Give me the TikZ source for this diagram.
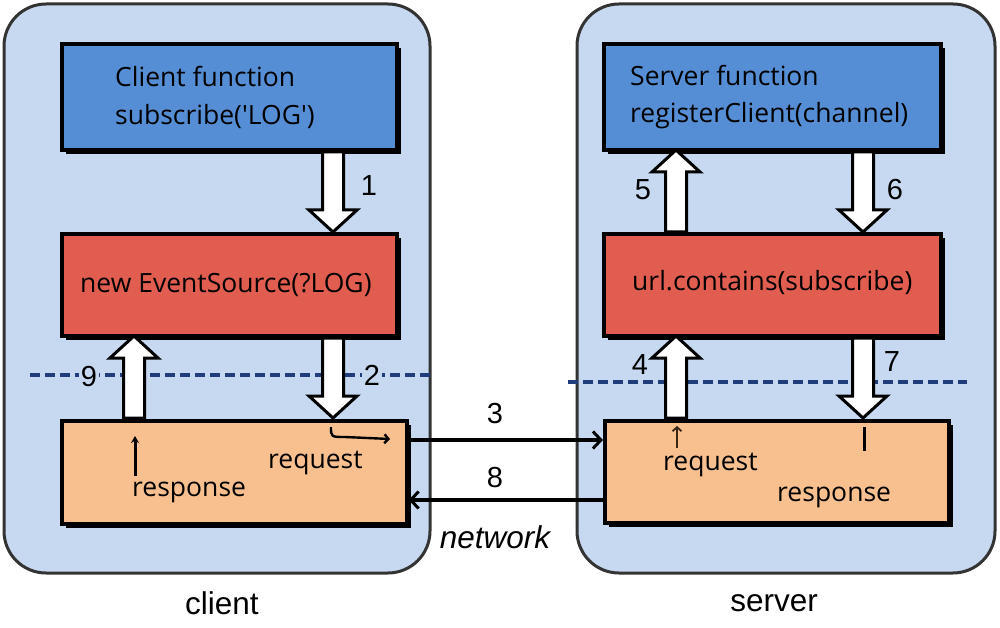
\documentclass[tikz,border=0pt]{standalone}
\usepackage{fontspec}
\setmainfont{Open Sans}[Ligatures=TeXOff]
\newfontfamily\arialf{Liberation Sans}
\usetikzlibrary{arrows.meta,shadows,calc}
\definecolor{panelc}{HTML}{C6D9F0}
\definecolor{bluec}{HTML}{558ED5}
\definecolor{redc}{HTML}{E05D4F}
\definecolor{orangec}{HTML}{F9C08F}
\definecolor{dashc}{HTML}{1F3D7A}
\definecolor{borderc}{HTML}{333333}
\newcommand\BArrowDown[3]{\draw[barrow] (#1-10.5,#2) -- (#1+10.5,#2) -- (#1+10.5,#3-22) -- (#1+24,#3-22) -- (#1,#3) -- (#1-24,#3-22) -- (#1-10.5,#3-22) -- cycle;}
\newcommand\BArrowUp[3]{\draw[barrow] (#1-10.5,#3) -- (#1+10.5,#3) -- (#1+10.5,#2+22) -- (#1+24,#2+22) -- (#1,#2) -- (#1-24,#2+22) -- (#1-10.5,#2+22) -- cycle;}
\begin{document}
\begin{tikzpicture}[x=1pt,y=-1pt,
  panel/.style={draw=borderc, line width=3pt, fill=panelc, rounded corners=42pt},
  box/.style={draw=black, line width=3.6pt, anchor=north west, inner sep=0pt,
     general shadow={fill=black, shadow xshift=4pt, shadow yshift=-4pt}},
  barrow/.style={draw=black, line width=3pt, fill=white, line join=miter},
  btext/.style={anchor=base west, inner sep=0pt, font=\fontsize{26.5}{30}\selectfont},
  num/.style={font=\arialf\fontsize{29}{34}\selectfont, inner sep=2pt},
  captext/.style={font=\arialf\fontsize{31.5}{36}\selectfont, inner sep=0pt},
  dashl/.style={draw=dashc, line width=3.2pt, dash pattern=on 10pt off 5pt},
  net/.style={draw=black, line width=3.2pt, -{Straight Barb[length=8pt,width=17pt,line width=3pt]}},
  hand/.style={draw=black, line width=3pt}
]
\useasboundingbox[fill=white] (0,0) rectangle (1000,628);
% panels
\draw[panel] (4,4) rectangle (430,573);
\draw[panel] (577,4) rectangle (995,573);
% dashed lines
\draw[dashl] (30,375) -- (430,375);
\draw[dashl] (568,382) -- (967,382);
% boxes left
\node[box, fill=bluec, minimum width=335pt, minimum height=106pt] (lb) at (60,42) {};
\node[box, fill=redc, minimum width=335pt, minimum height=102pt] (lr) at (60,232) {};
\node[box, fill=orangec, minimum width=345pt, minimum height=103pt] (lo) at (60,419) {};
% boxes right
\node[box, fill=bluec, minimum width=337pt, minimum height=106pt] (rb) at (602,42) {};
\node[box, fill=redc, minimum width=337pt, minimum height=102pt] (rr) at (602,232) {};
\node[box, fill=orangec, minimum width=344pt, minimum height=102pt] (ro) at (603,419) {};
% block arrows
\BArrowDown{333}{152}{232}
\BArrowDown{333}{338}{418}
\BArrowUp{134}{336}{418}
\BArrowUp{676}{150}{232}
\BArrowDown{863}{152}{232}
\BArrowUp{676}{336}{418}
\BArrowDown{863}{338}{418}
% box texts
\node[btext] (t1) at (115,87) {Client function};
\node[btext] (t2) at (115,125) {subscribe('LOG')};
\node[btext] (t3) at (80,292) {new EventSource(?LOG)};
\node[btext] (t4) at (630,86) {Server function};
\node[btext] (t5) at (630,123) {registerClient(channel)};
\node[btext] (t6) at (632,290) {url.contains(subscribe)};
\node[btext] (t7) at (268,468) {request};
\node[btext] (t8) at (132,496) {response};
\node[btext] (t9) at (663,470) {request};
\node[btext] (t10) at (777,501) {response};
% numbers
\node[num] (n1) at (369,186) {1};
\node[num, fill=panelc] (n2) at (372,375) {2};
\node[num, fill=panelc] (n9) at (89,377) {9};
\node[num] (n5) at (643,190) {5};
\node[num] (n6) at (895,190) {6};
\node[num] (n4) at (640,365) {4};
\node[num] (n7) at (892,362) {7};
\node[num] (n3) at (495,414) {3};
\node[num] (n8) at (495,478) {8};
% network connectors
\draw[net] ([yshift=-21pt]lo.north east) -- ([yshift=-21pt]ro.north west);
\draw[net] ([yshift=-81pt]ro.north west) -- ([yshift=-81pt]lo.north east);
% captions
\node[captext, font=\arialf\itshape\fontsize{31.5}{36}\selectfont] (nw) at (495,537) {network};
\node[captext] (cl) at (222,603) {client};
\node[captext] (sv) at (774,603) {server};
% hand-drawn marks
\draw[hand, -{Stealth[length=7pt,width=8pt]}] (135,476) -- (135,436);
\draw[hand, line width=2.4pt, -{Straight Barb[length=4pt,width=9pt]}] (331,427) .. controls (331,437) .. (345,437) -- (390,439);
\draw[draw=black!70!brown, line width=1.8pt, -{Straight Barb[length=4pt,width=9pt]}] (677,448) -- (677,426);
\draw[hand] (864,427) -- (864,451);
\end{tikzpicture}
\end{document}
